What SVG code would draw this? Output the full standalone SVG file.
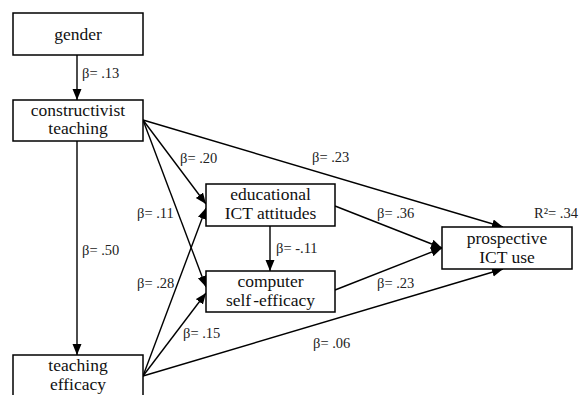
<svg xmlns="http://www.w3.org/2000/svg" width="579" height="395" viewBox="0 0 579 395">
<defs>
<style>
.box{fill:#fff;stroke:#000;stroke-width:1.5}
.nt{font-size:17.5px;text-anchor:middle;fill:#111}
.lb{font-size:14.5px;fill:#222}
.c{stroke:#000;stroke-width:1.4;fill:none;marker-end:url(#ah)}
</style>
<marker id="ah" markerUnits="userSpaceOnUse" markerWidth="12" markerHeight="10" refX="11" refY="4.5" orient="auto">
<path d="M0,0 L11,4.5 L0,9 z" fill="#000"/>
</marker>
</defs>
<rect width="579" height="395" fill="#fff"/>
<g id="connectors">
<line class="c" x1="77" y1="55" x2="77" y2="100"/>
<line class="c" x1="77" y1="141" x2="77" y2="355"/>
<line class="c" x1="143" y1="120" x2="206" y2="204"/>
<line class="c" x1="143" y1="120" x2="206" y2="287"/>
<line class="c" x1="143" y1="120" x2="503" y2="227"/>
<line class="c" x1="143" y1="376" x2="206" y2="208"/>
<line class="c" x1="143" y1="376" x2="206" y2="293"/>
<line class="c" x1="143" y1="376" x2="503" y2="269"/>
<line class="c" x1="335" y1="206" x2="442" y2="248"/>
<line class="c" x1="335" y1="290" x2="442" y2="248"/>
<line class="c" x1="270" y1="226" x2="270" y2="271"/>
</g>
<g font-family="Liberation Serif, Tinos, Noto Serif, DejaVu Serif, Times New Roman, serif">
<g id="labels">
<text class="lb" x="82" y="78">β= .13</text>
<text class="lb" x="82" y="255">β= .50</text>
<text class="lb" x="180" y="163">β= .20</text>
<text class="lb" x="312" y="162">β= .23</text>
<text class="lb" x="137" y="218">β= .11</text>
<text class="lb" x="137" y="288">β= .28</text>
<text class="lb" x="183" y="338">β= .15</text>
<text class="lb" x="313" y="348">β= .06</text>
<text class="lb" x="377" y="218">β= .36</text>
<text class="lb" x="377" y="288">β= .23</text>
<text class="lb" x="276" y="253">β= -.11</text>
<text class="lb" x="534" y="218">R²= .34</text>
</g>
<g id="gender">
<rect class="box" x="13" y="13" width="130" height="42"/>
<text class="nt" x="78" y="40">gender</text>
</g>
<g id="constructivist-teaching">
<rect class="box" x="13" y="100" width="130" height="41"/>
<text class="nt" x="78" y="116">constructivist</text>
<text class="nt" x="78" y="134">teaching</text>
</g>
<g id="teaching-efficacy">
<rect class="box" x="13" y="355" width="130" height="50"/>
<text class="nt" x="78" y="371">teaching</text>
<text class="nt" x="78" y="390">efficacy</text>
</g>
<g id="educational-ict-attitudes">
<rect class="box" x="206" y="184" width="129" height="42"/>
<text class="nt" x="270.5" y="200">educational</text>
<text class="nt" x="270.5" y="219">ICT attitudes</text>
</g>
<g id="computer-self-efficacy">
<rect class="box" x="206" y="271" width="129" height="41"/>
<text class="nt" x="270.5" y="287">computer</text>
<text class="nt" x="270.5" y="306">self<tspan dx="2">-efficacy</tspan></text>
</g>
<g id="prospective-ict-use">
<rect class="box" x="442" y="227" width="130" height="42"/>
<text class="nt" x="507" y="244">prospective</text>
<text class="nt" x="507" y="263">ICT use</text>
</g>
</g>
</svg>
